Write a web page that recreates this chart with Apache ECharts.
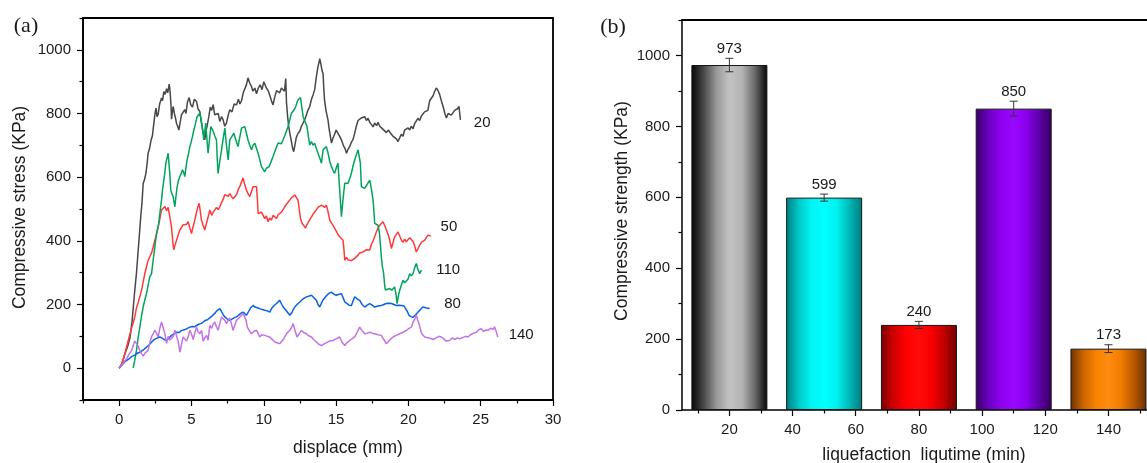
<!DOCTYPE html>
<html>
<head>
<meta charset="utf-8">
<script src="https://cdn.jsdelivr.net/npm/echarts@6/dist/echarts.min.js"></script>
<style>
  html, body { margin: 0; padding: 0; background: #fff; }
  #chart { width: 1147px; height: 463px; }
</style>
</head>
<body>
<div id="chart"></div>
<script>
// ---------- (a) stress–displacement curves, [displacement mm, stress KPa] ----------
const curve20 = [[0,0],[0.2,15],[0.4,45],[0.6,70],[0.75,95],[0.9,150],[1.05,230],[1.2,300],[1.35,390],[1.5,480],[1.58,520],[1.66,580],[1.75,592],[1.85,612],[1.95,650],[2.0,675],[2.1,690],[2.2,715],[2.3,730],[2.4,770],[2.48,800],[2.55,817],[2.62,790],[2.7,798],[2.8,830],[2.93,849],[3.0,840],[3.09,869],[3.18,860],[3.28,878],[3.36,865],[3.46,892],[3.52,870],[3.58,830],[3.62,782],[3.68,805],[3.73,822],[3.82,800],[3.9,785],[3.97,768],[4.05,760],[4.13,748],[4.22,772],[4.31,796],[4.4,790],[4.54,812],[4.62,800],[4.72,835],[4.84,850],[4.95,828],[5.07,820],[5.2,845],[5.35,838],[5.45,815],[5.58,806],[5.7,770],[5.8,740],[5.92,717],[6.0,745],[6.08,760],[6.2,790],[6.3,820],[6.4,810],[6.5,828],[6.61,796],[6.73,790],[6.85,800],[6.96,775],[7.08,790],[7.19,780],[7.3,760],[7.42,770],[7.54,795],[7.65,812],[7.8,805],[7.95,830],[8.11,827],[8.25,845],[8.35,830],[8.46,840],[8.58,865],[8.69,862],[8.8,890],[8.91,912],[9.03,895],[9.15,885],[9.25,870],[9.38,880],[9.5,862],[9.62,880],[9.75,890],[9.88,875],[10.0,900],[10.07,896],[10.18,880],[10.3,872],[10.41,858],[10.53,840],[10.64,827],[10.75,850],[10.88,872],[10.99,875],[11.1,865],[11.22,880],[11.33,886],[11.43,870],[11.52,910],[11.57,835],[11.65,790],[11.72,760],[11.8,738],[11.9,715],[12.0,690],[12.07,680],[12.15,700],[12.25,725],[12.37,738],[12.5,745],[12.6,760],[12.72,755],[12.83,780],[12.95,795],[13.05,810],[13.18,822],[13.3,845],[13.42,860],[13.52,875],[13.62,910],[13.75,948],[13.82,960],[13.87,972],[13.95,955],[14.03,935],[14.1,925],[14.15,880],[14.2,843],[14.3,810],[14.44,780],[14.52,752],[14.6,730],[14.68,707],[14.78,722],[14.9,735],[15.0,748],[15.13,742],[15.25,728],[15.37,717],[15.5,700],[15.62,690],[15.72,675],[15.83,688],[15.94,696],[16.06,710],[16.17,718],[16.3,740],[16.4,760],[16.52,778],[16.63,772],[16.75,786],[16.88,780],[16.98,790],[17.1,778],[17.21,785],[17.33,772],[17.45,765],[17.56,758],[17.67,770],[17.8,762],[17.9,772],[18.02,760],[18.13,765],[18.25,750],[18.36,755],[18.48,740],[18.6,748],[18.7,742],[18.83,735],[18.94,728],[19.05,732],[19.17,720],[19.28,712],[19.4,718],[19.52,735],[19.63,728],[19.74,748],[19.86,742],[19.98,755],[20.09,748],[20.2,760],[20.32,752],[20.43,768],[20.55,770],[20.66,785],[20.78,778],[20.9,792],[21.0,790],[21.12,805],[21.24,800],[21.35,810],[21.47,840],[21.59,845],[21.7,855],[21.82,870],[21.93,880],[22.05,872],[22.16,860],[22.28,840],[22.4,822],[22.52,800],[22.63,786],[22.75,800],[22.85,806],[22.97,795],[23.08,798],[23.2,810],[23.32,806],[23.4,815],[23.5,822],[23.55,800],[23.6,780]];

const curve50 = [[0,0],[0.15,10],[0.3,30],[0.51,66],[0.7,100],[0.85,125],[0.97,142],[1.1,165],[1.2,190],[1.31,205],[1.43,225],[1.55,245],[1.66,270],[1.78,298],[1.9,320],[2.0,338],[2.12,350],[2.24,362],[2.35,380],[2.47,402],[2.58,420],[2.7,444],[2.8,465],[2.93,497],[3.05,500],[3.16,508],[3.28,495],[3.39,505],[3.5,476],[3.56,460],[3.62,444],[3.7,400],[3.78,372],[3.85,385],[3.97,402],[4.08,418],[4.2,434],[4.32,428],[4.42,450],[4.54,444],[4.66,452],[4.77,460],[4.89,440],[5.0,423],[5.12,445],[5.23,465],[5.35,490],[5.45,508],[5.53,518],[5.62,490],[5.69,465],[5.8,450],[5.92,434],[6.04,455],[6.15,475],[6.27,497],[6.4,480],[6.5,490],[6.61,497],[6.73,505],[6.85,498],[6.96,507],[7.08,520],[7.19,530],[7.3,545],[7.42,549],[7.54,540],[7.65,548],[7.77,539],[7.88,532],[8.0,528],[8.11,545],[8.22,560],[8.34,570],[8.46,585],[8.57,598],[8.66,580],[8.8,560],[8.91,548],[9.03,539],[9.15,555],[9.26,570],[9.38,565],[9.5,570],[9.56,530],[9.61,486],[9.72,480],[9.84,490],[9.95,486],[10.07,470],[10.18,478],[10.3,460],[10.41,472],[10.53,465],[10.64,480],[10.76,476],[10.88,470],[10.99,482],[11.1,476],[11.22,490],[11.33,498],[11.45,507],[11.57,515],[11.68,520],[11.8,528],[11.91,535],[12.03,530],[12.14,544],[12.26,538],[12.37,528],[12.45,500],[12.54,470],[12.65,455],[12.77,448],[12.88,440],[13.0,452],[13.1,460],[13.2,462],[13.3,475],[13.42,485],[13.55,492],[13.64,497],[13.75,505],[13.87,500],[13.99,512],[14.1,518],[14.22,505],[14.33,512],[14.45,490],[14.56,465],[14.7,455],[14.8,448],[14.9,444],[15.02,430],[15.13,420],[15.25,413],[15.37,408],[15.48,402],[15.55,370],[15.6,339],[15.72,348],[15.83,340],[15.94,344],[16.06,338],[16.17,334],[16.29,345],[16.4,350],[16.52,355],[16.63,362],[16.75,358],[16.86,365],[16.98,362],[17.1,372],[17.21,368],[17.33,371],[17.45,390],[17.56,400],[17.67,413],[17.8,430],[17.9,440],[18.02,449],[18.13,455],[18.25,460],[18.36,448],[18.48,444],[18.6,420],[18.71,402],[18.83,376],[18.94,395],[19.05,413],[19.17,420],[19.28,428],[19.4,415],[19.52,402],[19.63,395],[19.74,405],[19.86,397],[19.98,392],[20.09,410],[20.21,408],[20.32,398],[20.43,385],[20.55,365],[20.66,375],[20.78,386],[20.9,395],[21.0,392],[21.13,402],[21.24,408],[21.35,418],[21.47,423],[21.55,415]];

const curve110 = [[0.97,0],[1.08,25],[1.2,56],[1.31,95],[1.43,129],[1.55,165],[1.66,192],[1.78,215],[1.89,234],[2.0,260],[2.12,287],[2.24,297],[2.35,339],[2.47,381],[2.58,423],[2.7,445],[2.76,465],[2.85,500],[2.93,528],[3.0,560],[3.09,591],[3.16,615],[3.23,644],[3.31,660],[3.39,675],[3.45,640],[3.5,612],[3.57,560],[3.65,548],[3.73,539],[3.8,520],[3.85,507],[3.93,540],[4.01,570],[4.1,590],[4.2,602],[4.29,612],[4.38,623],[4.46,615],[4.54,602],[4.62,630],[4.7,654],[4.8,675],[4.89,696],[4.98,710],[5.07,728],[5.15,745],[5.23,759],[5.31,775],[5.39,790],[5.48,795],[5.58,801],[5.66,780],[5.74,759],[5.8,740],[5.85,717],[5.92,745],[5.99,770],[6.07,720],[6.15,675],[6.25,720],[6.34,759],[6.42,752],[6.5,745],[6.61,730],[6.73,717],[6.78,660],[6.84,612],[6.96,650],[7.08,686],[7.19,720],[7.31,754],[7.42,700],[7.54,654],[7.6,690],[7.65,717],[7.8,728],[7.93,738],[8.05,720],[8.22,696],[8.34,725],[8.46,754],[8.57,748],[8.69,759],[8.8,738],[8.91,717],[9.03,700],[9.15,686],[9.26,700],[9.38,707],[9.5,690],[9.61,675],[9.72,655],[9.84,633],[9.95,625],[10.07,617],[10.18,628],[10.3,622],[10.37,633],[10.5,648],[10.64,665],[10.76,680],[10.88,695],[10.99,707],[11.1,712],[11.22,705],[11.33,717],[11.45,730],[11.57,745],[11.68,759],[11.8,780],[11.91,801],[12.03,808],[12.14,815],[12.21,822],[12.3,835],[12.37,843],[12.45,838],[12.54,850],[12.63,820],[12.72,790],[12.85,775],[12.99,759],[13.08,730],[13.18,701],[13.3,712],[13.4,700],[13.52,707],[13.64,690],[13.75,675],[13.87,660],[13.99,644],[14.1,686],[14.2,690],[14.33,696],[14.45,675],[14.56,650],[14.68,633],[14.8,620],[14.9,612],[15.02,630],[15.13,644],[15.25,560],[15.37,476],[15.48,530],[15.6,581],[15.72,575],[15.83,581],[15.94,595],[16.06,612],[16.17,635],[16.29,654],[16.4,670],[16.52,686],[16.6,665],[16.68,644],[16.75,570],[16.86,575],[16.98,565],[17.1,570],[17.21,582],[17.33,591],[17.45,560],[17.56,528],[17.62,490],[17.67,455],[17.8,452],[17.9,449],[17.98,430],[18.02,413],[18.08,380],[18.13,350],[18.2,320],[18.29,297],[18.35,265],[18.41,245],[18.55,248],[18.71,250],[18.85,245],[19.05,255],[19.15,230],[19.22,203],[19.3,225],[19.4,245],[19.52,262],[19.63,276],[19.75,268],[19.86,266],[19.98,280],[20.09,297],[20.2,290],[20.32,297],[20.43,315],[20.55,329],[20.66,310],[20.78,297],[20.9,308]];

const curve80 = [[0,0],[0.2,10],[0.35,18],[0.51,24],[0.7,30],[0.85,36],[0.97,40],[1.1,42],[1.25,47],[1.43,50],[1.6,55],[1.75,60],[1.89,66],[2.05,72],[2.2,80],[2.35,87],[2.5,92],[2.65,95],[2.81,98],[2.95,95],[3.1,90],[3.28,87],[3.45,95],[3.62,103],[3.8,108],[3.97,113],[4.15,112],[4.3,118],[4.42,119],[4.6,122],[4.75,126],[4.89,129],[5.05,131],[5.2,130],[5.35,134],[5.5,138],[5.65,140],[5.81,145],[5.95,150],[6.1,152],[6.27,158],[6.45,165],[6.61,172],[6.75,180],[6.85,184],[6.96,187],[7.08,178],[7.19,168],[7.31,161],[7.45,155],[7.65,150],[7.8,154],[7.95,158],[8.11,161],[8.25,166],[8.4,172],[8.57,176],[8.7,170],[8.8,166],[8.95,178],[9.1,190],[9.26,197],[9.4,192],[9.55,190],[9.72,187],[9.9,184],[10.07,182],[10.25,180],[10.41,176],[10.55,188],[10.7,196],[10.88,203],[11.0,208],[11.1,213],[11.25,200],[11.35,192],[11.45,187],[11.6,178],[11.8,166],[11.95,175],[12.05,185],[12.14,192],[12.3,200],[12.49,208],[12.65,215],[12.8,220],[12.95,224],[13.1,226],[13.3,229],[13.45,222],[13.64,213],[13.75,200],[13.87,192],[14.0,205],[14.1,215],[14.2,219],[14.35,228],[14.5,235],[14.68,239],[14.85,232],[15.02,229],[15.2,232],[15.37,234],[15.5,220],[15.6,208],[15.72,203],[15.9,198],[16.06,197],[16.18,212],[16.29,224],[16.45,218],[16.63,213],[16.8,200],[16.98,192],[17.15,198],[17.33,203],[17.5,198],[17.67,192],[17.9,195],[18.13,197],[18.3,200],[18.48,203],[18.65,204],[18.83,203],[19.0,200],[19.17,197],[19.35,198],[19.52,197],[19.7,195],[19.81,192],[19.93,178],[20.04,166],[20.18,162],[20.32,160],[20.5,168],[20.66,176],[20.85,185],[21.0,192],[21.2,190],[21.35,187],[21.47,189]];

const curve140 = [[0,0],[0.16,8],[0.35,20],[0.51,30],[0.7,45],[0.86,55],[1.0,75],[1.08,85],[1.2,88],[1.3,70],[1.43,56],[1.55,45],[1.66,38],[1.8,48],[2.0,56],[2.12,80],[2.25,100],[2.35,108],[2.47,119],[2.58,110],[2.7,98],[2.81,125],[2.93,145],[3.05,150],[3.15,110],[3.28,78],[3.39,100],[3.5,88],[3.62,87],[3.75,100],[3.85,119],[3.97,115],[4.08,85],[4.2,50],[4.3,72],[4.42,98],[4.54,100],[4.66,85],[4.78,100],[4.89,119],[5.0,108],[5.12,90],[5.23,110],[5.35,129],[5.45,115],[5.58,108],[5.7,119],[5.81,85],[5.92,95],[6.04,103],[6.15,88],[6.27,134],[6.4,125],[6.5,138],[6.61,145],[6.73,130],[6.84,119],[6.96,140],[7.08,161],[7.19,158],[7.31,150],[7.42,140],[7.54,150],[7.65,158],[7.77,161],[7.88,119],[8.0,135],[8.11,150],[8.22,155],[8.34,160],[8.46,166],[8.57,172],[8.69,176],[8.78,150],[8.86,129],[9.0,118],[9.15,108],[9.3,115],[9.5,119],[9.6,110],[9.72,98],[9.85,105],[9.95,100],[10.07,103],[10.25,100],[10.41,98],[10.55,92],[10.76,82],[10.9,80],[11.1,77],[11.22,80],[11.35,90],[11.45,98],[11.6,110],[11.8,119],[11.92,128],[12.03,140],[12.15,120],[12.3,98],[12.45,108],[12.6,119],[12.75,112],[12.95,108],[13.1,102],[13.3,98],[13.45,90],[13.64,82],[13.8,75],[13.99,71],[14.1,75],[14.2,77],[14.33,82],[14.55,85],[14.79,87],[15.0,92],[15.25,98],[15.4,82],[15.6,71],[15.75,80],[15.94,87],[16.1,92],[16.29,98],[16.45,112],[16.63,129],[16.8,118],[16.98,108],[17.15,110],[17.33,113],[17.5,110],[17.67,108],[17.9,105],[18.13,103],[18.3,90],[18.48,77],[18.7,88],[18.94,98],[19.15,103],[19.4,108],[19.6,112],[19.86,119],[20.05,125],[20.21,129],[20.32,145],[20.45,155],[20.55,166],[20.65,150],[20.73,140],[20.82,125],[20.9,110],[21.0,105],[21.13,98],[21.24,92],[21.45,95],[21.7,90],[21.95,96],[22.1,100],[22.28,98],[22.45,92],[22.6,85],[22.85,87],[23.05,95],[23.2,90],[23.4,95],[23.55,92],[23.75,96],[23.95,100],[24.12,98],[24.3,105],[24.5,110],[24.7,113],[24.85,120],[25.04,124],[25.2,115],[25.35,120],[25.5,119],[25.7,126],[25.85,122],[25.96,130],[26.05,118],[26.19,98]];

// curve tags (liquefaction time) and where each tag sits, in data units
const curveNames = ['20', '50', '110', '80', '140'];
const curveTagX = [25.1, 22.8, 22.75, 23.05, 27.8];
const curveTagY = [771, 443, 308, 201, 106];

// ---------- (b) compressive strength per liquefaction time ----------
const liqTimes = [20, 50, 80, 110, 140];
const strengths = [973, 599, 240, 850, 173];
const errors = [19, 10, 10, 21, 11];

// tick values
const xTicksA = [0, 5, 10, 15, 20, 25, 30];
const xMinorA = [-2.5, 2.5, 7.5, 12.5, 17.5, 22.5, 27.5];
const yTicksA = [0, 200, 400, 600, 800, 1000];
const yMinorA = [-100, 100, 300, 500, 700, 900, 1100];
const xTicksB = [20, 40, 60, 80, 100, 120, 140];
const xMinorB = [10, 30, 50, 70, 90, 110, 130, 150];
const yTicksB = [0, 200, 400, 600, 800, 1000];
const yMinorB = [100, 300, 500, 700, 900, 1100];

// styles
const curveColors = ['#474747', '#ff3a3a', '#00a45c', '#0a62e2', '#c372e6'];
const barStops = [
  ['#050505', '#4a4a4a', '#9a9a9a', '#c2c2c2', '#b4b4b4', '#6a6a6a', '#050505'],
  ['#007f7f', '#00c8c8', '#00f4f4', '#00ffff', '#00f0f0', '#00b8b8', '#007c7c'],
  ['#7a0000', '#d00000', '#ff0000', '#ff0a0a', '#f80000', '#c00000', '#6e0000'],
  ['#3a0068', '#6a00c0', '#8e00f0', '#9a08ff', '#8a00ee', '#5e00a8', '#36005e'],
  ['#6e3300', '#c86400', '#f88200', '#ff8c10', '#f07c00', '#b85800', '#6a3000']
];
const FONT = '"Liberation Sans", Arial, sans-serif';
const TXT = '#1a1a1a';

const chart = echarts.init(document.getElementById('chart'), null, { renderer: 'canvas' });

function grad(stops) {
  const n = stops.length - 1;
  return new echarts.graphic.LinearGradient(0, 0, 1, 0,
    stops.map((c, i) => ({ offset: i / n, color: c })));
}

const plain = v => String(v);

function majorAxis(extra, ticks) {
  return Object.assign({
    type: 'value',
    axisLine: { show: true, onZero: false, lineStyle: { color: '#000', width: 1.5 } },
    axisTick: { show: true, length: 6, customValues: ticks, lineStyle: { color: '#000', width: 1.2 } },
    axisLabel: { customValues: ticks, formatter: plain, color: TXT, fontSize: 15, fontFamily: FONT, margin: 12 },
    splitLine: { show: false }
  }, extra);
}
function minorAxis(extra, ticks) {
  return Object.assign({
    type: 'value',
    axisLine: { show: false, onZero: false },
    axisTick: { show: true, length: 3.5, customValues: ticks, lineStyle: { color: '#000', width: 1.2 } },
    axisLabel: { show: false },
    splitLine: { show: false }
  }, extra);
}

const lineSeries = [curve20, curve50, curve110, curve80, curve140].map((d, i) => ({
  type: 'line',
  xAxisIndex: 0,
  yAxisIndex: 0,
  data: d,
  showSymbol: false,
  symbol: 'none',
  lineStyle: { color: curveColors[i], width: 1.5 },
  z: 2 + i
}));

const option = {
  animation: false,
  backgroundColor: '#ffffff',
  grid: [
    { left: 83, top: 18, width: 470, height: 382, show: true, borderColor: '#000', borderWidth: 1.8, backgroundColor: 'transparent' },
    { left: 682, top: 20, right: 0, height: 390 }
  ],
  xAxis: [
    majorAxis({ gridIndex: 0, position: 'bottom', min: -2.5, max: 30 }, xTicksA),
    minorAxis({ gridIndex: 0, position: 'bottom', min: -2.5, max: 30 }, xMinorA),
    majorAxis({ gridIndex: 1, position: 'bottom', min: 5, max: 152.2 }, xTicksB),
    minorAxis({ gridIndex: 1, position: 'bottom', min: 5, max: 152.2 }, xMinorB),
    { type: 'value', gridIndex: 1, position: 'top', min: 5, max: 152.2,
      axisLine: { show: true, onZero: false, lineStyle: { color: '#000', width: 2 } },
      axisTick: { show: false }, axisLabel: { show: false }, splitLine: { show: false } }
  ],
  yAxis: [
    majorAxis({ gridIndex: 0, position: 'left', min: -100, max: 1100 }, yTicksA),
    minorAxis({ gridIndex: 0, position: 'left', min: -100, max: 1100 }, yMinorA),
    majorAxis({ gridIndex: 1, position: 'left', min: 0, max: 1100 }, yTicksB),
    minorAxis({ gridIndex: 1, position: 'left', min: 0, max: 1100 }, yMinorB)
  ],
  series: lineSeries.concat([
    {
      // curve tags
      type: 'custom',
      xAxisIndex: 0,
      yAxisIndex: 0,
      data: curveNames.map((n, i) => [curveTagX[i], curveTagY[i], i]),
      renderItem: function (params, api) {
        const p = api.coord([api.value(0), api.value(1)]);
        return {
          type: 'text', x: p[0], y: p[1],
          style: { text: curveNames[api.value(2)], fill: TXT, font: '15px ' + FONT, align: 'center', verticalAlign: 'middle' }
        };
      },
      z: 20
    },
    {
      type: 'bar',
      xAxisIndex: 2,
      yAxisIndex: 2,
      barWidth: 76,
      data: liqTimes.map((t, i) => ({
        value: [t, strengths[i]],
        itemStyle: { color: grad(barStops[i]), borderColor: '#151515', borderWidth: 1 }
      })),
      z: 3
    },
    {
      // error bars and value tags
      type: 'custom',
      xAxisIndex: 2,
      yAxisIndex: 2,
      data: liqTimes.map((t, i) => [t, strengths[i], errors[i]]),
      renderItem: function (params, api) {
        const x = api.value(0), v = api.value(1), e = api.value(2);
        const top = api.coord([x, v + e]);
        const bot = api.coord([x, v - e]);
        const hw = 4;
        const st = { stroke: '#333', lineWidth: 1 };
        return {
          type: 'group',
          children: [
            { type: 'line', shape: { x1: top[0], y1: top[1], x2: bot[0], y2: bot[1] }, style: st },
            { type: 'line', shape: { x1: top[0] - hw, y1: top[1], x2: top[0] + hw, y2: top[1] }, style: st },
            { type: 'line', shape: { x1: bot[0] - hw, y1: bot[1], x2: bot[0] + hw, y2: bot[1] }, style: st },
            { type: 'text', x: top[0], y: top[1] - 2,
              style: { text: String(v), fill: TXT, font: '15px ' + FONT, align: 'center', verticalAlign: 'bottom' } }
          ]
        };
      },
      z: 10
    }
  ]),
  graphic: [
    { type: 'text', x: 26, y: 26, style: { text: '(a)', fill: TXT, font: '22px "Liberation Serif", serif', align: 'center', verticalAlign: 'middle' } },
    { type: 'text', x: 613, y: 27, style: { text: '(b)', fill: TXT, font: '22px "Liberation Serif", serif', align: 'center', verticalAlign: 'middle' } },
    { type: 'text', x: 20, y: 207.5, rotation: Math.PI / 2,
      style: { text: 'Compressive stress (KPa)', fill: TXT, font: '17.5px ' + FONT, align: 'center', verticalAlign: 'middle' } },
    { type: 'text', x: 348, y: 448,
      style: { text: 'displace (mm)', fill: TXT, font: '17.5px ' + FONT, align: 'center', verticalAlign: 'middle' } },
    { type: 'text', x: 622, y: 211, rotation: Math.PI / 2,
      style: { text: 'Compressive strength (KPa)', fill: TXT, font: '17.5px ' + FONT, align: 'center', verticalAlign: 'middle' } },
    { type: 'text', x: 924, y: 455,
      style: { text: 'liquefaction  liqutime (min)', fill: TXT, font: '17.5px ' + FONT, align: 'center', verticalAlign: 'middle' } }
  ]
};

chart.setOption(option);
</script>
</body>
</html>
